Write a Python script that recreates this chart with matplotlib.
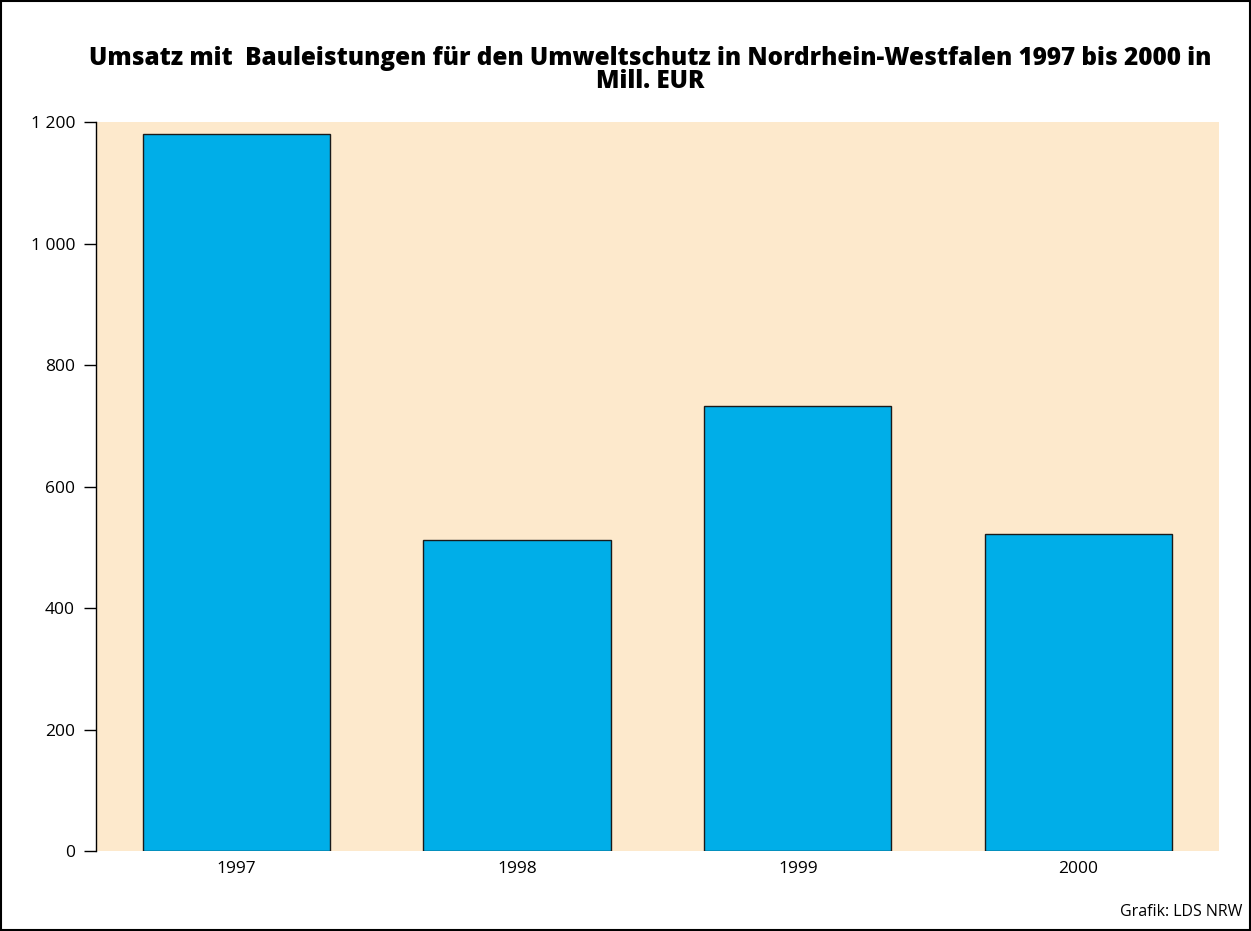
import matplotlib
matplotlib.use("Agg")
import matplotlib.pyplot as plt
from matplotlib.patches import Rectangle

years = ["1997", "1998", "1999", "2000"]
umsatz = [1181, 512, 733, 522]
yticks = [0, 200, 400, 600, 800, 1000, 1200]
ylabels = ["0", "200", "400", "600", "800", "1 000", "1 200"]

plt.rcParams['font.family'] = ['Open Sans', 'DejaVu Sans']

fig = plt.figure(figsize=(12.51, 9.31), dpi=100)
ax = fig.add_axes([0.0767, 0.0854, 0.8977, 0.7836])
ax.set_facecolor("#fde9cc")

ax.bar(range(len(years)), umsatz, width=0.667, color="#00aee8",
       edgecolor="#1a1a1a", linewidth=1.0)

ax.set_xlim(-0.5, 3.5)
ax.set_ylim(0, 1200)
ax.set_xticks(range(len(years)))
ax.set_xticklabels(years, fontsize=12.5)
ax.set_yticks(yticks)
ax.set_yticklabels(ylabels, fontsize=12.5)
ax.tick_params(axis="x", length=0, pad=7)
ax.tick_params(axis="y", length=9, width=1, pad=6)

for s in ["top", "right", "bottom"]:
    ax.spines[s].set_visible(False)
ax.spines["left"].set_linewidth(1)

fig.text(0.52, 0.925,
         "Umsatz mit  Bauleistungen für den Umweltschutz in Nordrhein-Westfalen 1997 bis 2000 in\nMill. EUR",
         ha="center", va="center", fontsize=17.5, fontweight="heavy", linespacing=0.9)
fig.text(0.993, 0.012, "Grafik: LDS NRW", ha="right", va="bottom", fontsize=11.5)

fig.patches.append(Rectangle((0.001, 0.001), 0.998, 0.998, transform=fig.transFigure,
                             fill=False, edgecolor="black", linewidth=1.5))

fig.savefig("out.png", dpi=100)
